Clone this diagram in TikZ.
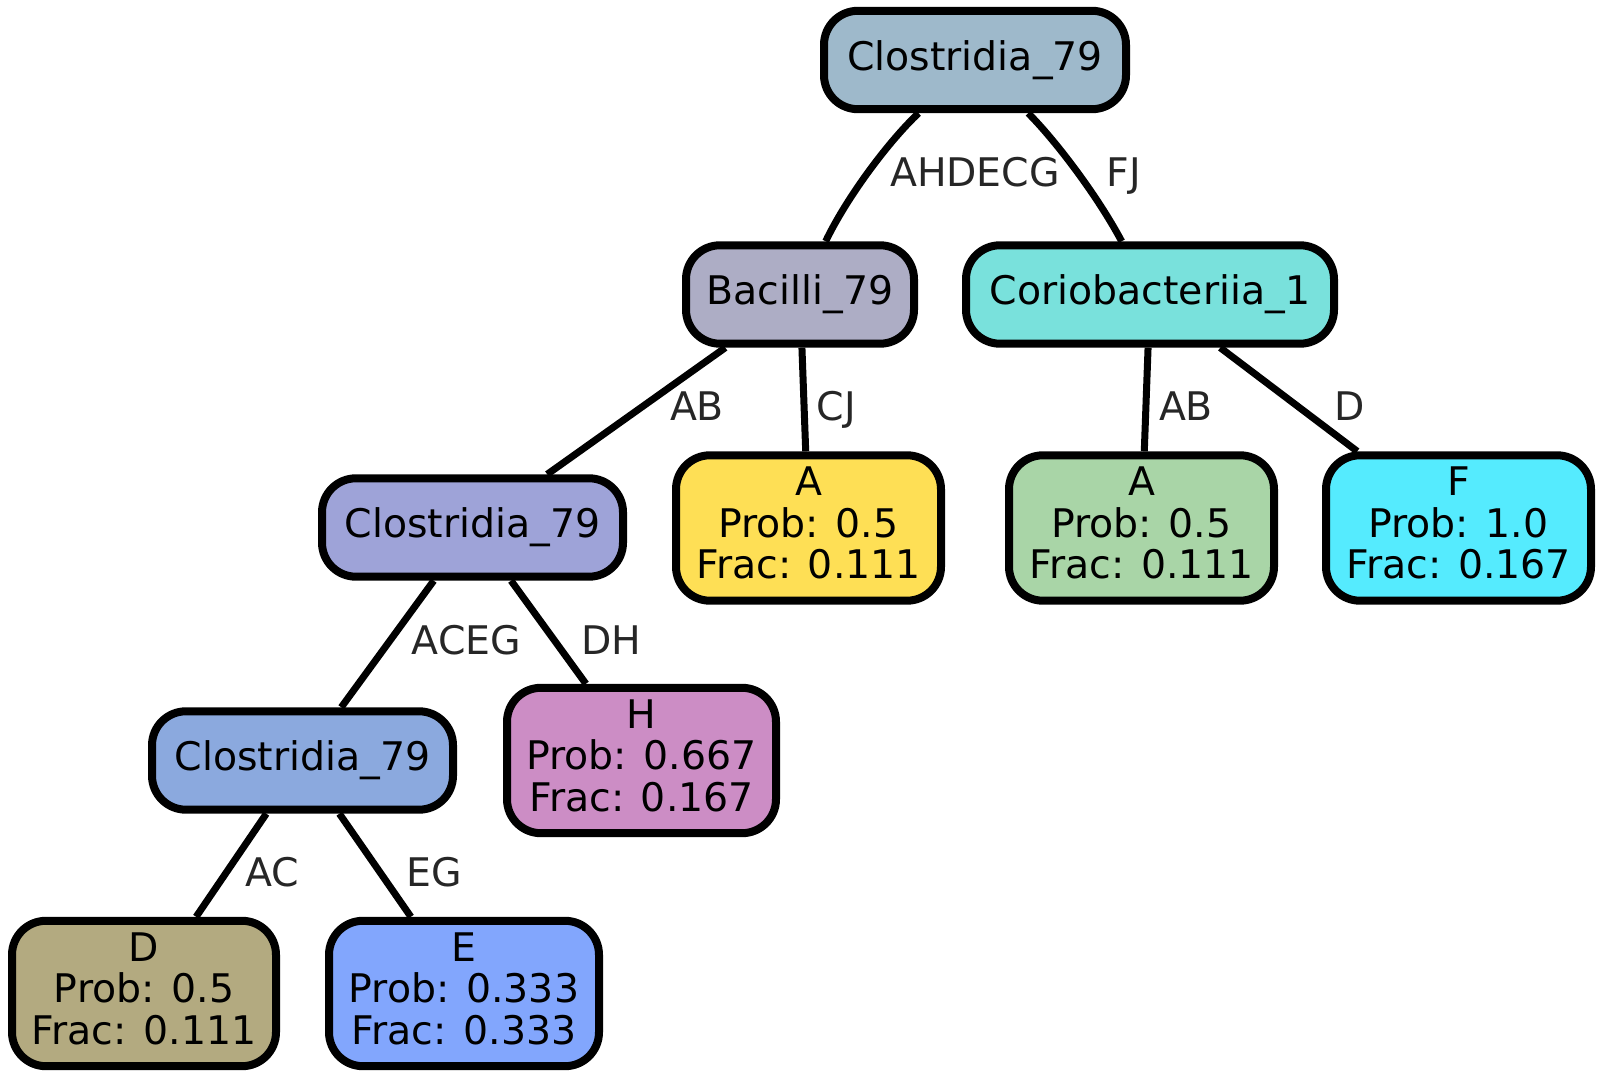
\documentclass[tikz,border=0pt]{standalone}
\usepackage{fontspec}
\setmainfont{DejaVu Sans}
\definecolor{cRoot}{HTML}{9EB9CB}
\definecolor{cBac}{HTML}{ADADC5}
\definecolor{cCor}{HTML}{79E1DC}
\definecolor{cClA}{HTML}{9EA3D8}
\definecolor{cClB}{HTML}{8BA9DE}
\definecolor{cYel}{HTML}{FEDF55}
\definecolor{cGrn}{HTML}{A9D5A7}
\definecolor{cCya}{HTML}{55EBFE}
\definecolor{cPur}{HTML}{CC8DC5}
\definecolor{cKha}{HTML}{B3AA80}
\definecolor{cBlu}{HTML}{82A6FD}
\definecolor{lblgray}{HTML}{262626}
\begin{document}
\begin{tikzpicture}[x=0.5pt, y=-0.5pt,
  box/.style={draw, line width=4pt, rounded corners=17pt, inner sep=0pt, align=center,
    font=\fontsize{19.7}{20.75}\selectfont},
  inner/.style={box, minimum height=49.2pt},
  leaf/.style={box, minimum height=72.7pt, text depth=5pt},
  lbl/.style={anchor=base, inner sep=0pt, text=lblgray, font=\fontsize{19.7}{20.75}\selectfont},
  edge/.style={line width=3.5pt}]
\path[fill=white, use as bounding box] (0,0) rectangle (1603,1079);
\node[inner, fill=cRoot, minimum width=151pt] (nid0) at (975,60){Clostridia\_79};
\node[inner, fill=cBac, minimum width=114pt] (nid1) at (800,294.5){Bacilli\_79};
\node[inner, fill=cCor, minimum width=184pt] (nid2) at (1150,294.5){Coriobacteriia\_1};
\node[inner, fill=cClA, minimum width=150.5pt] (nid3) at (472.5,527.5){Clostridia\_79};
\node[leaf, fill=cYel, minimum width=132.5pt] (nid4) at (808.5,528){A\\Prob: 0.5\\Frac: 0.111};
\node[leaf, fill=cGrn, minimum width=132.5pt] (nid5) at (1141.5,528){A\\Prob: 0.5\\Frac: 0.111};
\node[leaf, fill=cCya, minimum width=132.5pt] (nid6) at (1458.5,528){F\\Prob: 1.0\\Frac: 0.167};
\node[inner, fill=cClB, minimum width=150.5pt] (nid7) at (302.5,760.5){Clostridia\_79};
\node[leaf, fill=cPur, minimum width=134.5pt] (nid8) at (641.5,760.5){H\\Prob: 0.667\\Frac: 0.167};
\node[leaf, fill=cKha, minimum width=132pt] (nid9) at (144,993.5){D\\Prob: 0.5\\Frac: 0.111};
\node[leaf, fill=cBlu, minimum width=135pt] (nid10) at (464,993.5){E\\Prob: 0.333\\Frac: 0.333};
\draw[edge](nid0) .. controls (890,140) and (848,195) .. (nid1);
\draw[edge](nid0) .. controls (1055,140) and (1097,195) .. (nid2);
\draw[edge](nid1) -- (nid3);
\draw[edge](nid1) -- (nid4);
\draw[edge](nid2) -- (nid5);
\draw[edge](nid2) -- (nid6);
\draw[edge](nid3) -- (nid7);
\draw[edge](nid3) -- (nid8);
\draw[edge](nid7) -- (nid9);
\draw[edge](nid7) -- (nid10);
\node[lbl] (lid0) at (975,187){AHDECG};
\node[lbl] (lid1) at (1124,187){FJ};
\node[lbl] (lid2) at (697,421){AB};
\node[lbl] (lid3) at (836.5,421){CJ};
\node[lbl] (lid4) at (1186,421){AB};
\node[lbl] (lid5) at (1350,421){D};
\node[lbl] (lid6) at (466.5,655){ACEG};
\node[lbl] (lid7) at (611.5,655){DH};
\node[lbl] (lid8) at (272.5,887){AC};
\node[lbl] (lid9) at (434,887){EG};
\end{tikzpicture}
\end{document}
